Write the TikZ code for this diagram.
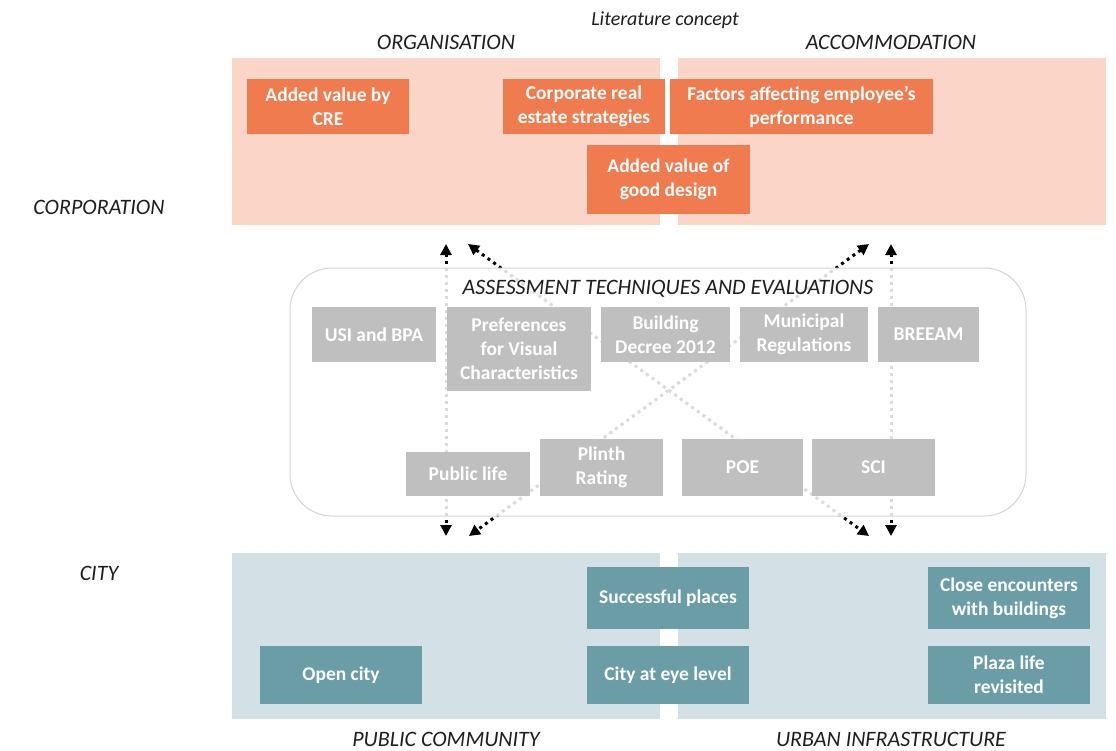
\documentclass[tikz,border=0pt]{standalone}
\usepackage{fontspec}
\setmainfont{Carlito}
\usetikzlibrary{arrows.meta}

\definecolor{pinkpanel}{HTML}{FBD5C8}
\definecolor{orangebox}{HTML}{EF7B4E}
\definecolor{bluepanel}{HTML}{D3E0E5}
\definecolor{tealbox}{HTML}{6A9DA6}
\definecolor{graybox}{HTML}{BFBFBF}
\definecolor{labeltext}{HTML}{1E1E1E}
\definecolor{framegray}{HTML}{D4D4D4}

\tikzset{
  box/.style={inner sep=0pt, align=center, text=white,
    font=\fontsize{19.5}{24}\selectfont\bfseries},
  obox/.style={box, fill=orangebox},
  gbox/.style={box, fill=graybox},
  tbox/.style={box, fill=tealbox},
  sz/.style 2 args={minimum width=#1pt, minimum height=#2pt},
  axislabel/.style={font=\fontsize{22}{26}\selectfont\itshape, text=labeltext, inner sep=0pt},
  link/.style={line width=3pt, dash pattern=on 3pt off 4pt,
    {Triangle[length=11pt,width=11pt]}-{Triangle[length=11pt,width=11pt]}},
}

\begin{document}
\begin{tikzpicture}[x=1pt,y=-1pt]
\useasboundingbox (0,0) rectangle (1116,750);

% corporation panels
\fill[pinkpanel] (232,58) rectangle (660,225);
\fill[pinkpanel] (678,58) rectangle (1106,225);
% city panels
\fill[bluepanel] (232,553) rectangle (660,719);
\fill[bluepanel] (678,553) rectangle (1106,719);

% corporation concepts
\node[obox, sz={162}{55}] (cre)  at (328,106.5) {Added value by\\CRE};
\node[obox, sz={162}{55}] (cres) at (584,106.5) {Corporate real\\estate strategies};
\node[obox, sz={263}{55}] (fac)  at (801.5,106.5) {Factors affecting employee’s\\performance};
\node[obox, sz={163}{69}] (avgd) at (668.5,179.5) {Added value of\\good design};

% city concepts
\node[tbox, sz={162}{62}] (sp)   at (668,598) {Successful places};
\node[tbox, sz={162}{62}] (cewb) at (1009,598) {Close encounters\\with buildings};
\node[tbox, sz={162}{58}] (oc)   at (341,675) {Open city};
\node[tbox, sz={162}{58}] (cael) at (668,675) {City at eye level};
\node[tbox, sz={162}{58}] (plrv) at (1009,675) {Plaza life\\revisited};

% dotted links between corporation and city
\coordinate (lvt) at (446,244);  \coordinate (lvb) at (446,536);
\coordinate (rvt) at (891,244);  \coordinate (rvb) at (891,536);
\coordinate (dat) at (468,244);  \coordinate (dab) at (869,536);
\coordinate (dbt) at (869,244);  \coordinate (dbb) at (469,536);
\draw[link] (lvt) -- (lvb);
\draw[link] (rvt) -- (rvb);
\draw[link] (dat) -- (dab);
\draw[link] (dbt) -- (dbb);

% assessment frame, veiling the links inside it
\draw[framegray, line width=1pt, fill=white, fill opacity=0.86, rounded corners=42pt]
  (290,268) rectangle (1026,516);
\node[axislabel] (ate) at (668,289) {ASSESSMENT TECHNIQUES AND EVALUATIONS};

% assessment techniques
\node[gbox, sz={124}{55}] (usi)  at (374,334.5) {USI and BPA};
\node[gbox, sz={144}{84}] (pref) at (519,349) {Preferences\\for Visual\\Characteristics};
\node[gbox, sz={129}{55}] (bd)   at (665.5,334.5) {Building\\Decree 2012};
\node[gbox, sz={128}{55}] (mr)   at (804,334.5) {Municipal\\Regulations};
\node[gbox, sz={101}{55}] (bre)  at (928.5,334.5) {BREEAM};
\node[gbox, sz={124}{44}] (pl)   at (468,474) {Public life};
\node[gbox, sz={123}{57}] (plr)  at (601.5,467.5) {Plinth\\Rating};
\node[gbox, sz={121}{57}] (poe)  at (742.5,467.5) {POE};
\node[gbox, sz={123}{57}] (sci)  at (873.5,467.5) {SCI};

% axis labels
\node[axislabel, font=\fontsize{20}{24}\selectfont\itshape] (lit) at (665,20) {Literature concept};
\node[axislabel] (org)  at (446,42)  {ORGANISATION};
\node[axislabel] (acc)  at (891,42)  {ACCOMMODATION};
\node[axislabel] (corp) at (99,207)  {CORPORATION};
\node[axislabel] (city) at (99,573)  {CITY};
\node[axislabel] (pub)  at (446,739) {PUBLIC COMMUNITY};
\node[axislabel] (urb)  at (891,739) {URBAN INFRASTRUCTURE};
\end{tikzpicture}
\end{document}
